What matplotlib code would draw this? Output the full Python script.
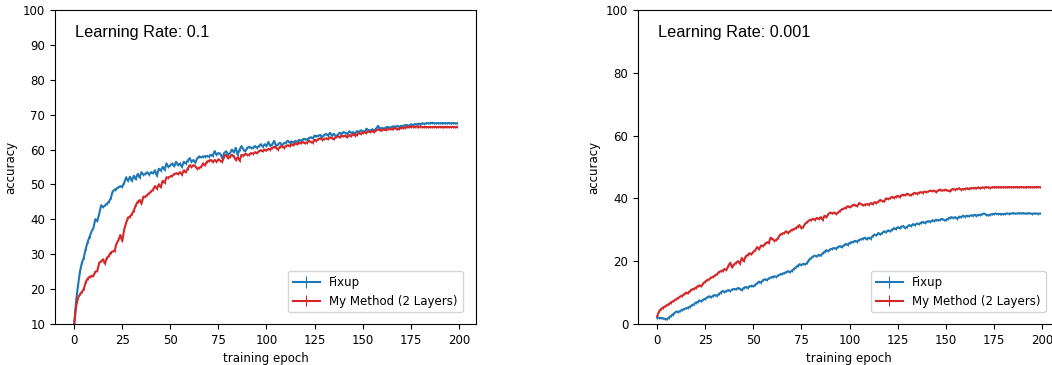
import numpy as np
import matplotlib.pyplot as plt

epochs = np.arange(200)

# learning rate 0.1
fixup_lr01 = [
    10.0, 16.5, 21.0, 25.0, 27.5, 29.0, 31.5, 33.5, 35.0, 36.5, 37.5, 40.0, 39.5, 41.5, 44.0, 43.5, 44.0, 44.5, 45.0, 46.0,
    48.0, 48.5, 48.8, 49.2, 49.5, 49.3, 50.5, 52.0, 51.0, 52.2, 51.0, 52.5, 51.5, 53.0, 52.0, 53.5, 52.8, 53.0, 53.5, 52.8,
    53.5, 53.2, 54.0, 52.5, 54.5, 54.0, 55.0, 54.2, 56.0, 55.0, 55.5, 56.0, 55.2, 56.5, 55.5, 56.0, 55.0, 56.5, 56.0, 56.8,
    57.5, 56.5, 57.0, 56.2, 57.5, 58.0, 57.8, 58.0, 58.0, 58.2, 58.0, 58.5, 58.2, 59.5, 58.5, 59.0, 58.8, 57.5, 59.0, 59.5,
    58.5, 59.0, 60.0, 59.2, 60.5, 58.5, 60.0, 61.0, 60.0, 59.5, 60.5, 60.8, 60.5, 60.5, 61.0, 60.5, 61.0, 61.5, 60.8, 61.5,
    61.0, 62.2, 61.0, 61.5, 62.5, 61.0, 61.5, 62.0, 61.2, 61.8, 62.0, 62.5, 62.0, 62.3, 62.0, 62.5, 62.2, 62.8, 62.5, 63.0,
    63.0, 62.8, 63.3, 63.5, 63.2, 64.0, 63.8, 64.0, 64.2, 63.5, 64.2, 64.5, 64.0, 64.8, 64.0, 64.5, 63.8, 64.2, 64.8, 64.5,
    65.0, 64.8, 64.5, 65.2, 64.8, 65.0, 64.5, 65.3, 65.0, 65.5, 65.2, 65.0, 66.0, 65.5, 65.5, 65.8, 65.5, 66.0, 66.8, 66.0,
    66.2, 66.0, 66.3, 66.5, 66.2, 66.5, 66.6, 66.5, 66.8, 66.5, 66.8, 66.7, 67.0, 67.0, 66.8, 67.2, 67.0, 67.3, 67.2, 67.4,
    67.3, 67.5, 67.4, 67.5, 67.6, 67.5, 67.7, 67.6, 67.5, 67.6, 67.5, 67.6, 67.5, 67.6, 67.5, 67.6, 67.5, 67.6, 67.5, 67.5,
]
mine_lr01 = [
    9.5, 15.0, 17.5, 18.5, 19.2, 20.0, 22.0, 23.0, 23.5, 23.8, 23.8, 25.0, 25.2, 27.5, 28.0, 28.5, 27.3, 29.0, 29.5, 30.5,
    30.8, 31.0, 33.0, 34.0, 35.5, 33.8, 37.0, 39.0, 40.5, 40.8, 41.5, 42.5, 44.0, 45.0, 45.5, 44.5, 46.5, 46.5, 47.0, 47.5,
    48.0, 48.5, 49.5, 48.8, 50.0, 49.2, 51.0, 50.5, 52.0, 52.0, 52.3, 52.5, 53.0, 53.2, 53.0, 53.5, 52.8, 54.0, 53.5, 54.5,
    55.5, 55.0, 55.5, 55.2, 54.5, 54.8, 55.0, 56.0, 55.5, 56.5, 56.8, 57.0, 56.5, 57.0, 56.5, 57.2, 56.8, 56.5, 58.0, 58.5,
    57.5, 58.0, 58.5, 58.0, 57.0, 57.8, 56.8, 58.5, 58.2, 58.8, 58.5, 58.5, 59.0, 58.8, 59.2, 59.0, 59.5, 59.8, 59.5, 60.0,
    59.8, 60.2, 60.0, 60.5, 60.8, 60.5, 60.0, 60.8, 61.0, 60.5, 61.0, 61.2, 61.0, 61.5, 61.2, 61.8, 61.5, 62.0, 61.8, 62.2,
    61.8, 62.0, 62.5, 62.2, 62.0, 62.8, 62.5, 63.0, 63.2, 62.8, 63.0, 63.2, 63.0, 63.5, 63.2, 63.0, 63.5, 63.8, 63.5, 64.0,
    63.8, 64.0, 63.5, 64.2, 63.8, 64.5, 64.0, 64.2, 64.8, 64.5, 64.8, 65.0, 64.8, 65.2, 65.0, 65.3, 65.0, 65.5, 65.8, 65.5,
    65.5, 65.8, 65.6, 65.8, 66.0, 65.8, 66.0, 66.2, 65.8, 66.0, 66.3, 66.2, 66.3, 66.5, 66.4, 66.5, 66.6, 66.5, 66.6, 66.5,
    66.6, 66.5, 66.4, 66.5, 66.4, 66.5, 66.4, 66.5, 66.5, 66.4, 66.5, 66.5, 66.4, 66.5, 66.5, 66.4, 66.5, 66.5, 66.4, 66.5,
]

# learning rate 0.001
fixup_lr0001 = [
    2.0, 2.0, 1.9, 1.8, 1.6, 1.5, 2.0, 2.5, 3.0, 3.5, 4.0, 3.8, 4.2, 4.5, 4.8, 5.0, 5.2, 5.5, 6.0, 6.2,
    6.8, 7.0, 7.5, 7.2, 7.8, 8.0, 8.5, 8.8, 8.5, 9.0, 9.2, 9.0, 9.5, 10.0, 10.5, 10.2, 10.5, 10.8, 10.5, 11.0,
    11.2, 11.0, 11.5, 11.2, 10.8, 11.5, 11.8, 11.5, 12.0, 12.2, 12.0, 12.5, 13.0, 13.5, 13.2, 14.0, 14.2, 14.0, 14.5, 14.8,
    15.0, 15.2, 15.0, 15.5, 15.8, 16.0, 16.2, 16.5, 16.8, 16.5, 17.0, 17.5, 18.0, 18.5, 19.0, 18.8, 19.2, 19.0, 19.5, 20.5,
    21.0, 21.5, 21.8, 21.5, 22.0, 21.8, 22.5, 23.0, 23.5, 23.2, 23.8, 24.0, 24.2, 24.0, 24.5, 24.8, 24.5, 25.0, 25.5, 25.2,
    25.8, 26.0, 26.2, 26.5, 26.2, 26.8, 27.0, 27.2, 27.5, 27.0, 27.5, 27.2, 28.0, 28.5, 28.2, 29.0, 28.5, 29.0, 29.5, 29.2,
    29.8, 29.5, 30.0, 30.5, 30.2, 30.8, 30.5, 31.0, 31.2, 30.5, 31.0, 31.5, 31.2, 31.8, 31.5, 32.0, 31.8, 32.2, 32.5, 32.2,
    32.5, 32.8, 32.5, 33.0, 32.8, 33.2, 33.0, 33.2, 33.5, 33.2, 33.0, 33.5, 33.8, 34.0, 33.8, 34.0, 33.5, 34.2, 34.0, 34.5,
    34.2, 34.5, 34.3, 34.6, 34.5, 34.8, 34.5, 34.8, 34.7, 35.0, 35.2, 34.8, 34.6, 34.8, 35.0, 35.0, 35.2, 35.0, 35.1, 35.0,
    35.0, 35.1, 35.2, 35.1, 35.2, 35.3, 35.2, 35.2, 35.3, 35.2, 35.3, 35.2, 35.2, 35.3, 35.2, 35.1, 35.2, 35.2, 35.1, 35.2,
]
mine_lr0001 = [
    2.5, 4.0, 4.8, 5.2, 5.6, 6.0, 6.3, 6.8, 7.2, 7.5, 8.0, 8.3, 8.8, 9.0, 9.5, 10.0, 9.8, 10.5, 11.0, 11.2,
    11.5, 12.0, 12.3, 12.0, 13.0, 13.5, 14.0, 14.2, 14.8, 15.0, 15.5, 15.8, 16.5, 16.8, 17.0, 17.5, 17.2, 18.5, 19.5, 18.0,
    19.0, 19.5, 20.0, 19.2, 21.0, 20.0, 21.5, 22.0, 22.5, 22.2, 23.0, 23.5, 24.5, 23.8, 25.0, 24.8, 25.5, 26.0, 25.8, 27.5,
    27.0, 26.5, 26.8, 27.5, 28.5, 28.8, 29.0, 29.5, 29.0, 29.5, 30.0, 30.2, 30.5, 31.0, 31.5, 30.5, 31.0, 32.0, 32.5, 33.0,
    33.2, 33.5, 33.2, 33.8, 33.5, 34.0, 33.2, 34.5, 34.0, 35.0, 35.5, 35.2, 35.5, 35.0, 35.5, 36.0, 36.5, 36.8, 37.0, 37.5,
    37.2, 37.5, 38.0, 37.8, 37.5, 38.5, 38.2, 37.8, 38.0, 38.2, 38.0, 38.5, 38.2, 38.8, 38.5, 39.0, 39.5, 39.2, 39.0, 40.0,
    39.8, 40.0, 40.5, 40.2, 40.5, 40.8, 40.5, 41.0, 41.2, 41.0, 41.5, 41.2, 41.0, 41.5, 41.8, 41.5, 41.8, 42.0, 41.8, 42.2,
    42.0, 42.2, 42.5, 42.3, 42.5, 42.0, 42.5, 42.8, 42.5, 42.6, 42.8, 42.5, 42.3, 42.8, 43.0, 42.8, 43.0, 43.2, 42.8, 43.0,
    43.0, 43.2, 43.0, 43.3, 43.2, 43.4, 43.2, 43.5, 43.2, 43.5, 43.4, 43.6, 43.5, 43.4, 43.5, 43.6, 43.5, 43.6, 43.5, 43.6,
    43.5, 43.6, 43.5, 43.6, 43.6, 43.5, 43.6, 43.6, 43.5, 43.6, 43.6, 43.5, 43.6, 43.6, 43.6, 43.5, 43.6, 43.6, 43.6, 43.6,
]
std_err = 0.3

plt.rcParams['font.size'] = 8.5

fig = plt.figure(figsize=(10.52, 3.65), dpi=100)
ax1 = fig.add_axes([0.0523, 0.1123, 0.4002, 0.8603])
ax2 = fig.add_axes([0.6065, 0.1123, 0.4002, 0.8603])  # right edge cut off like the original

panels = [
    (ax1, fixup_lr01, mine_lr01, "Learning Rate: 0.1", (10, 100), np.arange(10, 101, 10)),
    (ax2, fixup_lr0001, mine_lr0001, "Learning Rate: 0.001", (0, 100), np.arange(0, 101, 20)),
]

for ax, fx, mm, title, ylim, yt in panels:
    ax.errorbar(epochs, fx, yerr=std_err, color="#1f77b4", ecolor="#1f77b4", elinewidth=0.8, lw=1.5, label="Fixup")
    ax.errorbar(epochs, mm, yerr=std_err, color="#d62728", ecolor="#d62728", elinewidth=0.8, lw=1.5,
                label="My Method (2 Layers)")
    ax.set_ylim(*ylim)
    ax.set_yticks(yt)
    ax.set_xticks(np.arange(0, 201, 25))
    ax.set_xlabel("training epoch")
    ax.set_ylabel("accuracy")
    ax.text(0.047, 0.927, title, transform=ax.transAxes, va="center", fontsize=11.7, family="Liberation Sans")
    ax.legend(loc="lower right", bbox_to_anchor=(0.968, 0.037), borderaxespad=0, handlelength=2.3)

fig.savefig("out.png", dpi=100)
